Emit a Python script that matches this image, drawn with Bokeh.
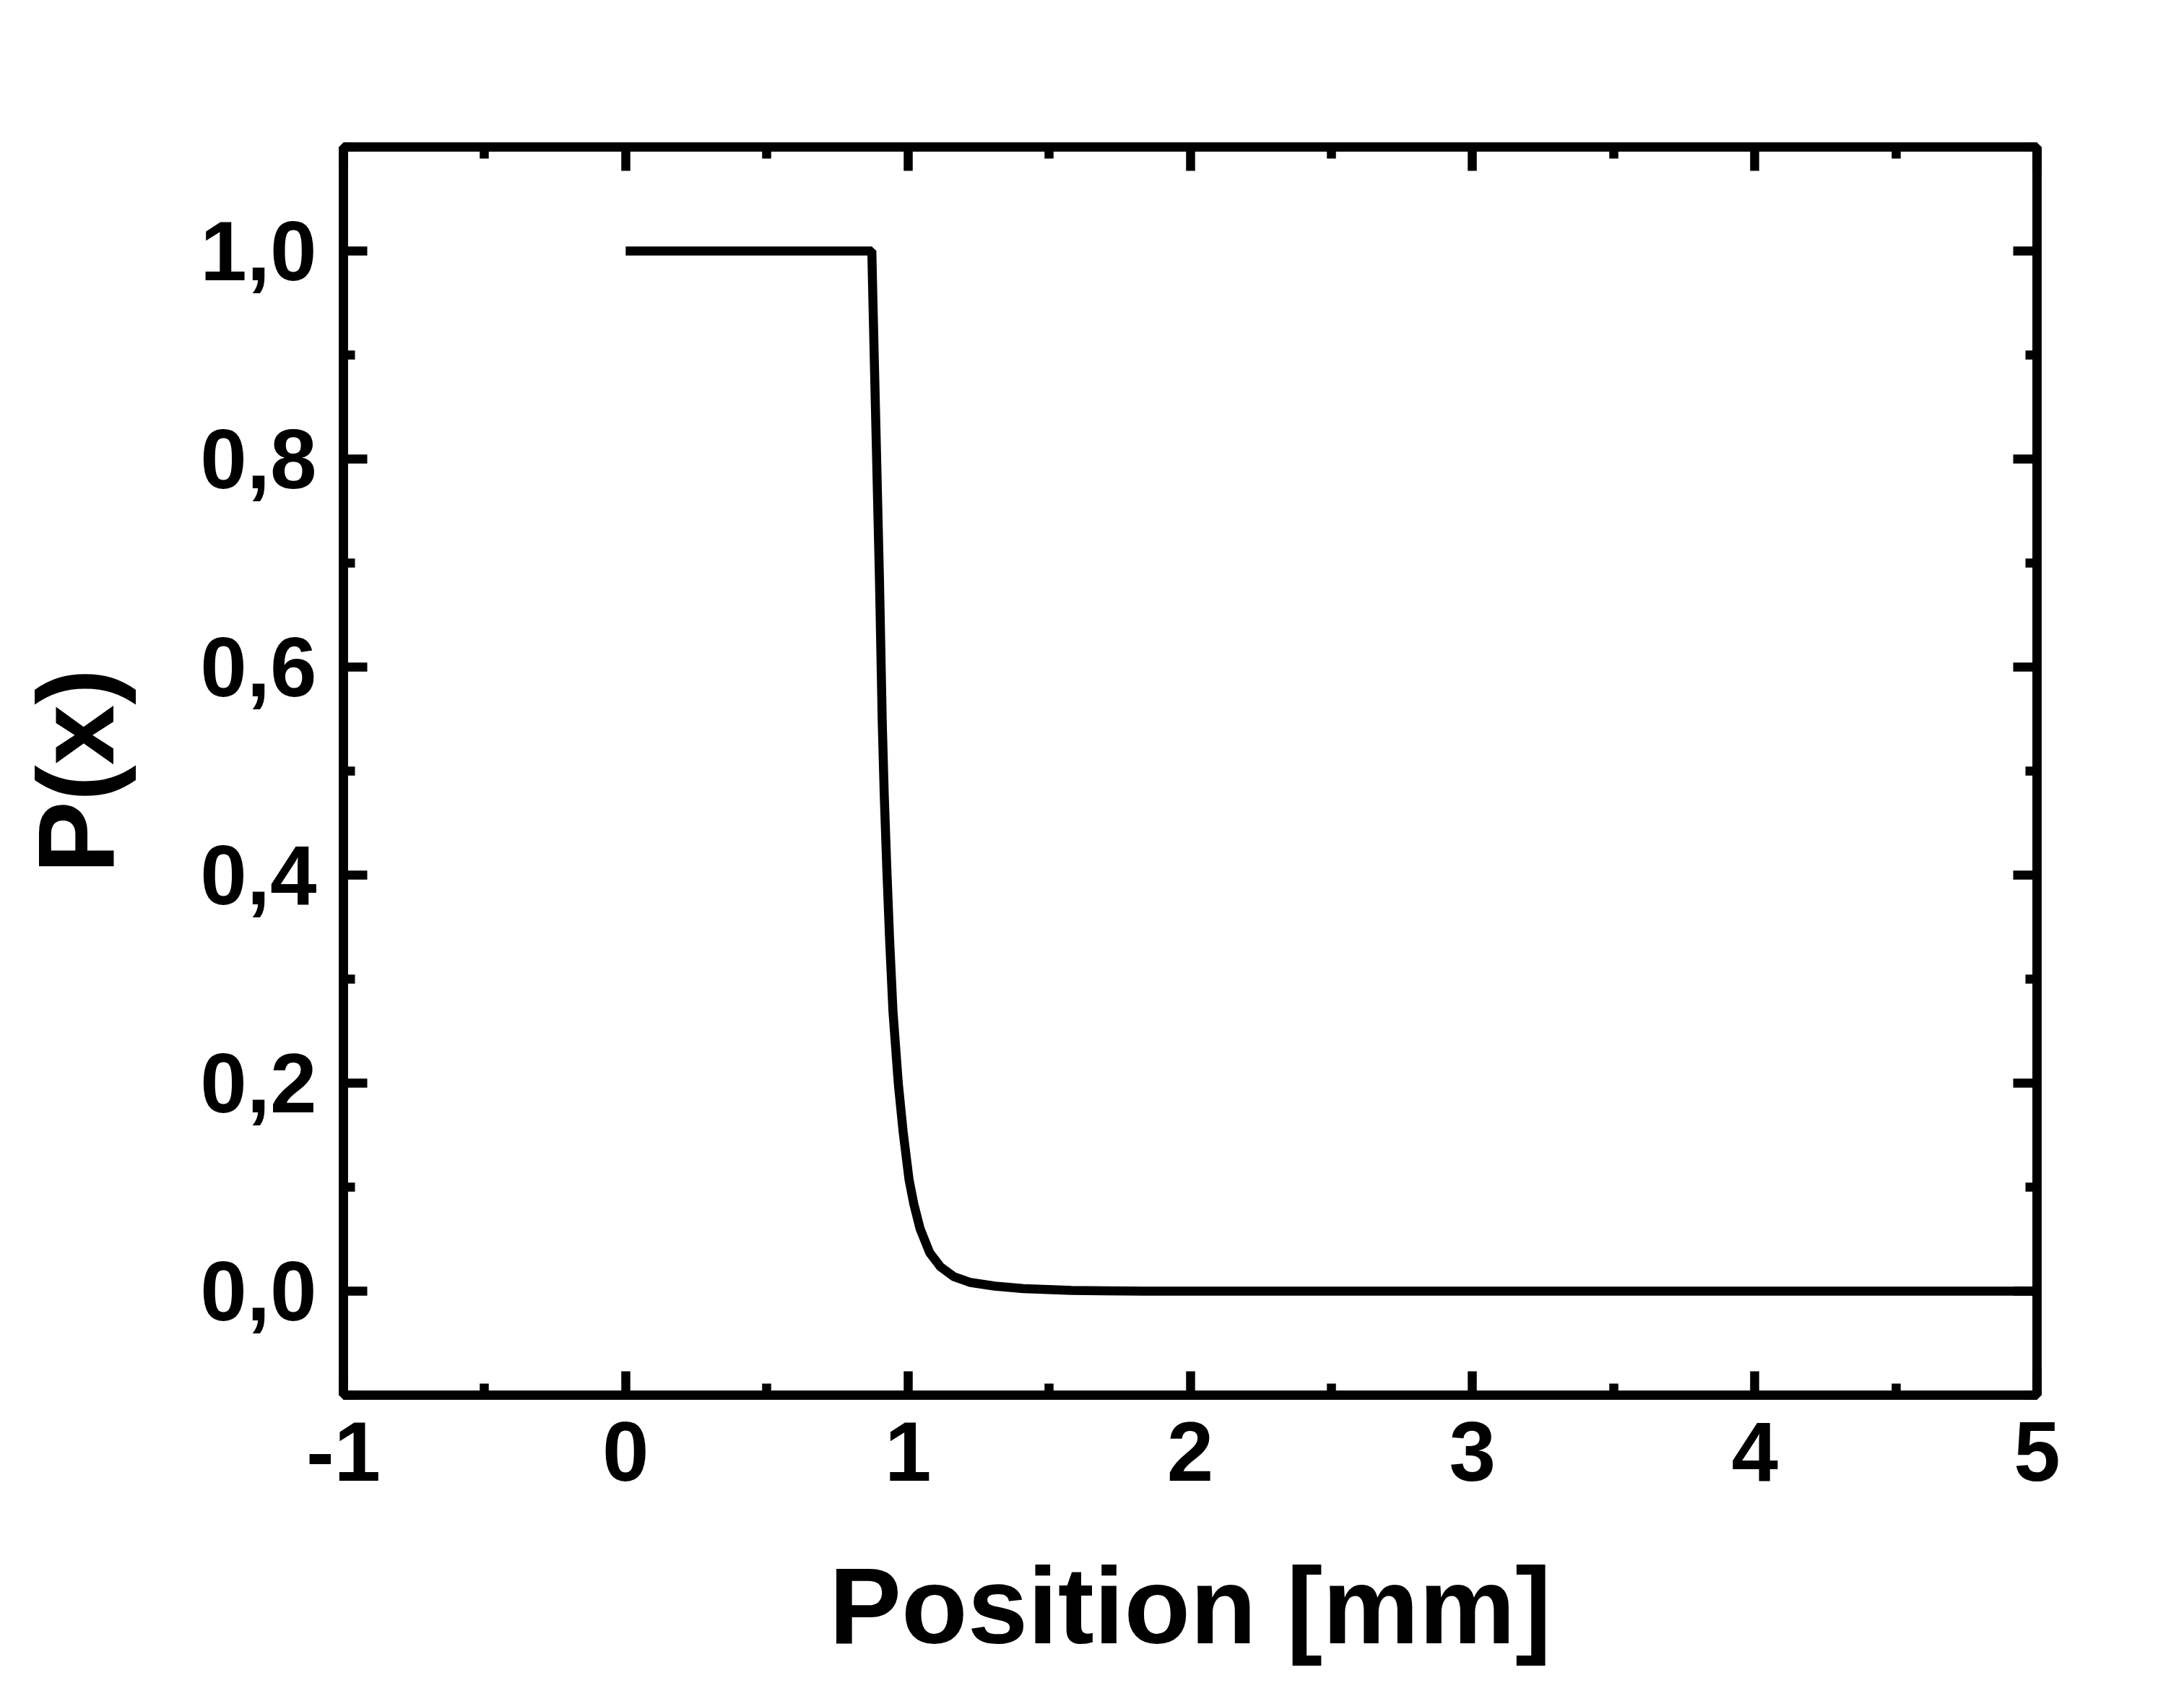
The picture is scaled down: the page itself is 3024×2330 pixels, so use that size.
from bokeh.plotting import figure
from bokeh.models import LinearAxis, FixedTicker, Range1d, CustomJSTickFormatter
from bokeh.embed import file_html
from bokeh.resources import INLINE

# ---- data ----
position_mm = [0.0, 0.872, 0.875, 0.881, 0.887, 0.893, 0.899, 0.904, 0.909, 0.916,
               0.925, 0.935, 0.947, 0.966, 0.983, 1.004, 1.021, 1.043, 1.077, 1.115,
               1.162, 1.222, 1.307, 1.409, 1.579, 1.835, 5.0]
p_x = [1.0, 1.0, 0.9625, 0.893, 0.824, 0.754, 0.685, 0.6155, 0.546, 0.477,
       0.407, 0.338, 0.2686, 0.199, 0.153, 0.107, 0.0835, 0.060, 0.037, 0.0234,
       0.014, 0.0083, 0.0049, 0.0025, 0.0007, 0.0, 0.0]

x_ticks = [-1, 0, 1, 2, 3, 4, 5]
x_tick_labels = ["-1", "0", "1", "2", "3", "4", "5"]
x_minor_ticks = [-0.5, 0.5, 1.5, 2.5, 3.5, 4.5]
y_ticks = [0.0, 0.2, 0.4, 0.6, 0.8, 1.0]
y_tick_labels = ["0,0", "0,2", "0,4", "0,6", "0,8", "1,0"]
y_minor_ticks = [-0.1, 0.1, 0.3, 0.5, 0.7, 0.9, 1.1]

x_title = "Position [mm]"
y_title = "P(x)"

FONT = "Liberation Sans"
LW = 12.5

p = figure(width=3008, height=2314, output_backend="svg", toolbar_location=None,
           x_range=Range1d(-1, 5), y_range=Range1d(-0.1, 1.1),
           min_border_left=475, min_border_right=188,
           min_border_top=203, min_border_bottom=383)
p.background_fill_color = "white"
p.border_fill_color = "white"
p.grid.visible = False
p.outline_line_color = "black"
p.outline_line_width = LW

p.line(position_mm, p_x, line_color="black", line_width=LW)

xt = FixedTicker(ticks=x_ticks, minor_ticks=x_minor_ticks)
yt = FixedTicker(ticks=y_ticks, minor_ticks=y_minor_ticks)


def style(ax):
    ax.axis_line_color = "black"
    ax.axis_line_width = LW
    ax.major_tick_line_color = "black"
    ax.major_tick_line_width = LW
    ax.minor_tick_line_color = "black"
    ax.minor_tick_line_width = LW
    ax.major_tick_in = 33
    ax.major_tick_out = 0
    ax.minor_tick_in = 16
    ax.minor_tick_out = 0
    ax.major_label_text_font = FONT
    ax.major_label_text_font_style = "bold"
    ax.major_label_text_font_size = "116px"
    ax.major_label_text_color = "black"
    ax.axis_label_text_font = FONT
    ax.axis_label_text_font_style = "bold"
    ax.axis_label_text_font_size = "150px"
    ax.axis_label_text_color = "black"


xa = p.xaxis[0]
xa.ticker = xt
xa.major_label_overrides = {float(t): s for t, s in zip(x_ticks, x_tick_labels)}
style(xa)
xa.major_label_standoff = 37
xa.axis_label = x_title
xa.axis_label_standoff = 86

ya = p.yaxis[0]
ya.ticker = yt
ya.major_label_overrides = {t: s for t, s in zip(y_ticks, y_tick_labels)}
style(ya)
ya.major_label_standoff = 37
ya.axis_label = y_title
ya.axis_label_standoff = 85

blank = "return ''"
top = LinearAxis(ticker=FixedTicker(ticks=x_ticks, minor_ticks=x_minor_ticks),
                 formatter=CustomJSTickFormatter(code=blank))
style(top)
p.add_layout(top, "above")

right = LinearAxis(ticker=FixedTicker(ticks=y_ticks, minor_ticks=y_minor_ticks),
                   formatter=CustomJSTickFormatter(code=blank))
style(right)
p.add_layout(right, "right")

open("out.html", "w").write(file_html(p, INLINE))
